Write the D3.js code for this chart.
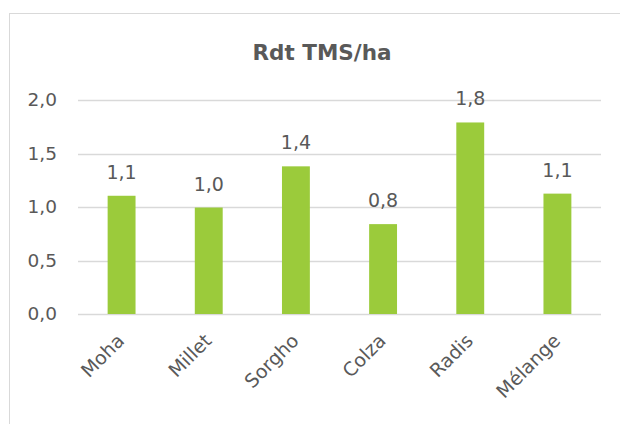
<!DOCTYPE html>
<html><head><meta charset="utf-8">
<script src="https://cdn.jsdelivr.net/npm/d3@7"></script>
<style>
html,body{margin:0;padding:0;background:#fff;}
svg{display:block;}
text{font-family:"DejaVu Sans",sans-serif;fill:#595959;}
</style></head>
<body>
<svg id="c" width="620" height="424"></svg>
<script>
const categories = ["Moha","Millet","Sorgho","Colza","Radis","Mélange"];
const values = [1.105, 0.995, 1.38, 0.84, 1.79, 1.125];
const yTicks = [0, 0.5, 1.0, 1.5, 2.0];
const title = "Rdt TMS/ha";

const svg = d3.select("#c");
const fmt = v => d3.format(".1f")(v).replace(".", ",");

svg.append("rect").attr("x",9.5).attr("y",13.5).attr("width",640).attr("height",440)
  .attr("fill","#fff").attr("stroke","#d9d9d9").attr("stroke-width",1);

const x = d3.scaleBand().domain(categories).range([78,601]).paddingInner(0.68).paddingOuter(0.34);
const y = d3.scaleLinear().domain([0,2]).range([314,100]);

// gridlines
svg.append("g").selectAll("line").data(yTicks).join("line")
  .attr("x1",78).attr("x2",601)
  .attr("y1",d=>Math.round(y(d))+0.5).attr("y2",d=>Math.round(y(d))+0.5)
  .attr("stroke","#d9d9d9").attr("stroke-width",1.3);

// y axis labels
const yAxis = d3.axisLeft(y).tickValues(yTicks).tickFormat(fmt).tickSize(0).tickPadding(0);
const ya = svg.append("g").attr("transform","translate(57,0)").call(yAxis);
ya.select(".domain").remove();
ya.selectAll("text").attr("font-size",18.5).attr("fill","#595959").style("font-family","DejaVu Sans");

// bars
svg.append("g").selectAll("rect").data(values).join("rect")
  .attr("x",(d,i)=>x(categories[i])).attr("width",x.bandwidth())
  .attr("y",d=>y(d)).attr("height",d=>y(0)-y(d))
  .attr("fill","#9bcb3b");

// data labels
svg.append("g").selectAll("text").data(values).join("text")
  .attr("x",(d,i)=>x(categories[i])+x.bandwidth()/2)
  .attr("y",d=>y(d)-17)
  .attr("text-anchor","middle").attr("font-size",19)
  .text(d=>fmt(d));

// x axis labels
const xAxis = d3.axisBottom(x).tickSize(0).tickPadding(0);
const xa = svg.append("g").attr("transform","translate(0,314)").call(xAxis);
xa.select(".domain").remove();
xa.selectAll("text")
  .attr("font-size",19).attr("fill","#595959").style("font-family","DejaVu Sans")
  .attr("text-anchor","end").attr("dy",null).attr("y",null)
  .attr("transform","translate(4,28) rotate(-45)");

// title
svg.append("text").attr("x",322).attr("y",60).attr("text-anchor","middle")
  .attr("font-size",21.5).attr("font-weight","bold").text(title);
</script>
</body></html>
